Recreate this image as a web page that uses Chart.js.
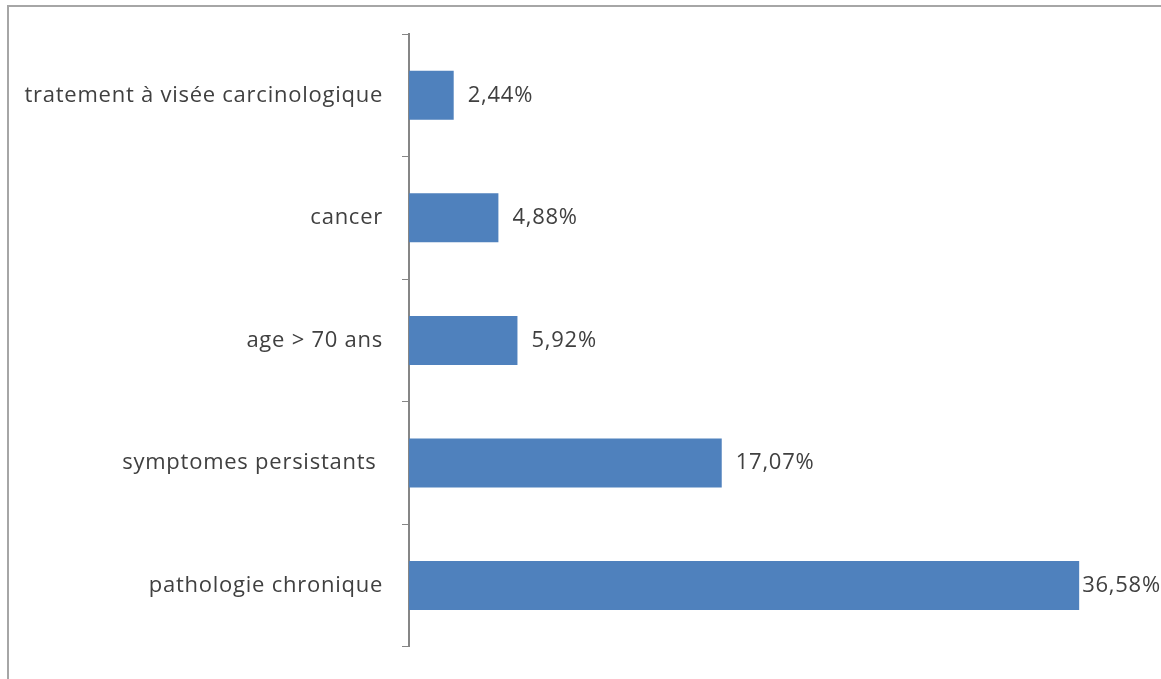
<!DOCTYPE html>
<html>
<head>
<meta charset="utf-8">
<script src="https://cdn.jsdelivr.net/npm/chart.js@4"></script>
<style>
  html, body { margin: 0; padding: 0; background: #fff; overflow: hidden; }
  #wrap { position: relative; width: 1161px; height: 679px; }
  #frame {
    position: absolute; left: 7px; top: 5px; width: 1300px; height: 800px;
    border-left: 2px solid #a6a6a6; border-top: 2px solid #a6a6a6;
  }
  canvas { position: absolute; left: 0; top: 0; }
</style>
</head>
<body>
<div id="wrap">
  <div id="frame"></div>
  <canvas id="chart" width="1161" height="679"></canvas>
</div>
<script>
const categories = [
  "tratement à visée carcinologique",
  "cancer",
  "age > 70 ans",
  "symptomes persistants ",
  "pathologie chronique"
];
const values = [2.44, 4.88, 5.92, 17.07, 36.58];
const valueLabels = ["2,44%", "4,88%", "5,92%", "17,07%", "36,58%"];

const FONT = "'Open Sans', Lato, sans-serif";
const TEXT = "#404040";

// a little extra tracking on all text (the context is reset whenever the canvas is sized)
const tracking = {
  id: "tracking",
  beforeLayout(chart) { chart.ctx.letterSpacing = "0.75px"; },
  beforeDraw(chart) { chart.ctx.letterSpacing = "0.75px"; }
};

// percentage labels written just past the end of each bar
const barLabels = {
  id: "barLabels",
  afterDatasetsDraw(chart) {
    const ctx = chart.ctx;
    const meta = chart.getDatasetMeta(0);
    ctx.save();
    ctx.font = "22px " + FONT;
    ctx.fillStyle = TEXT;
    ctx.textBaseline = "middle";
    ctx.textAlign = "left";
    meta.data.forEach((bar, i) => {
      const txt = valueLabels[i];
      let x = bar.x + 14;
      if (x + ctx.measureText(txt).width > chart.width) x = bar.x + 3;
      ctx.fillText(txt, x, bar.y);
    });
    ctx.restore();
  }
};

new Chart(document.getElementById("chart"), {
  type: "bar",
  data: {
    labels: categories,
    datasets: [{
      data: values,
      backgroundColor: "#4f81bd",
      borderWidth: 0,
      categoryPercentage: 1,
      barPercentage: 0.4
    }]
  },
  options: {
    indexAxis: "y",
    responsive: false,
    animation: false,
    layout: { padding: { top: 34, bottom: 26, left: 0, right: 21 } },
    plugins: { legend: { display: false }, tooltip: { enabled: false } },
    scales: {
      x: { display: false, min: 0, max: 39.9 },
      y: {
        afterFit(scale) { scale.width = 409; },
        border: { display: true, color: "#868686", width: 2 },
        grid: {
          drawOnChartArea: false,
          drawTicks: true,
          tickLength: 7,
          color: "#868686",
          offset: true
        },
        ticks: {
          padding: 19,
          color: TEXT,
          font: { family: FONT, size: 22 }
        }
      }
    }
  },
  plugins: [tracking, barLabels]
});
</script>
</body>
</html>
